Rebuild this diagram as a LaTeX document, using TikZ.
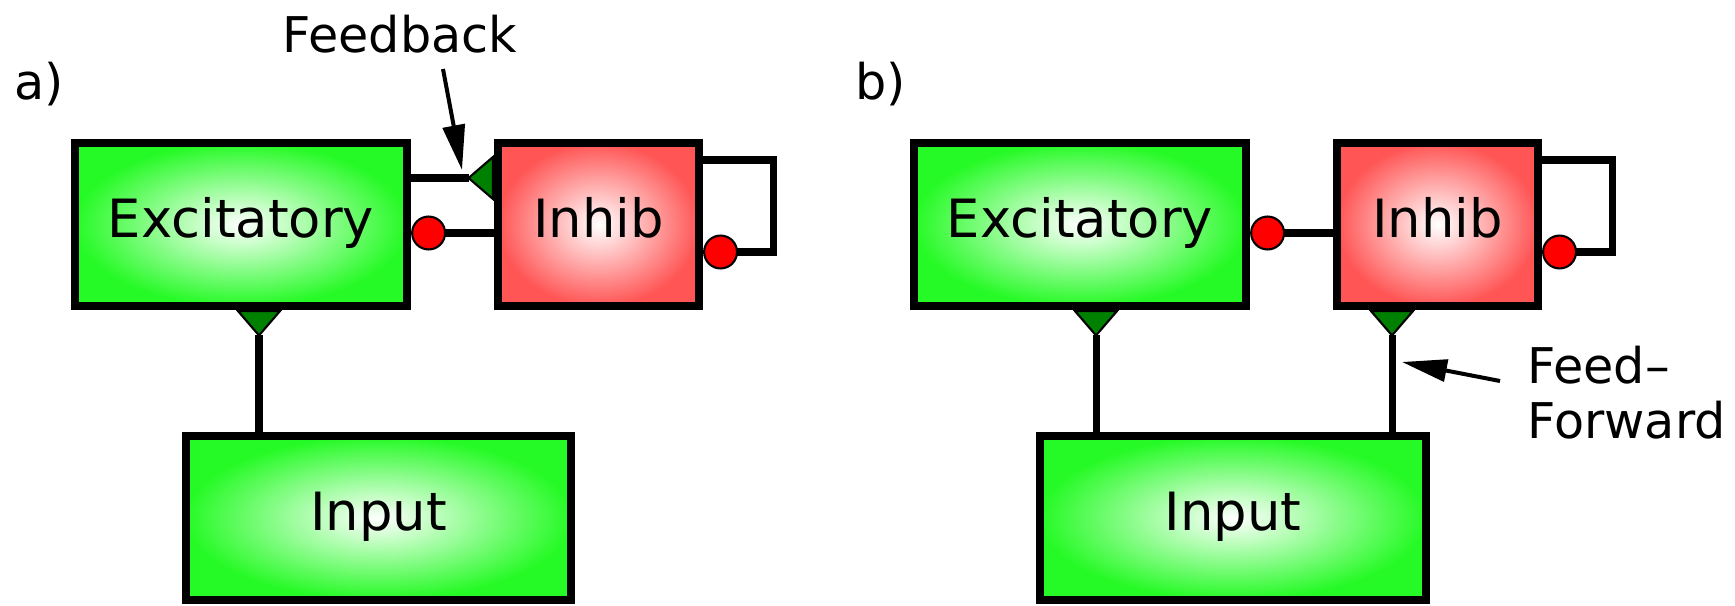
\documentclass[tikz,border=0pt]{standalone}
\usepackage{fontspec}
\setmainfont{DejaVu Sans}
\usepackage{tikz}
\usetikzlibrary{arrows.meta,shapes}
\definecolor{excgreen}{RGB}{38,250,38}
\definecolor{inhred}{RGB}{255,85,85}
\definecolor{synapse}{RGB}{0,128,0}
\definecolor{blocker}{RGB}{255,0,0}
\tikzstyle{lbl}=[font=\fontsize{14}{17}\selectfont,inner sep=0pt]
\tikzstyle{exbox}=[rectangle,draw=black,line width=0.08cm,inner sep=0pt,inner color=white,outer color=excgreen,minimum height=1.63cm,text height=0.73em,text depth=0pt,font=\fontsize{15}{18}\selectfont]
\tikzstyle{inbox}=[rectangle,draw=black,line width=0.08cm,inner sep=0pt,inner color=white,outer color=inhred,minimum width=2.01cm,minimum height=1.63cm,text height=0.73em,text depth=0pt,font=\fontsize{15}{18}\selectfont]
\tikzstyle{excite}=[draw,line width=0.07cm,-{Triangle[reversed,length=0.27cm,width=0.46cm,fill=synapse,line width=0.6pt]}]
\tikzstyle{inhibit}=[draw,line width=0.07cm,-{Circle[length=0.35cm,fill=blocker,line width=0.6pt]}]
\tikzstyle{pointer}=[draw,line width=0.04cm,-{Triangle[length=0.45cm,width=0.22cm]}]

\begin{document}
\begin{tikzpicture}[x=0.01cm,y=-0.01cm]
    \useasboundingbox (0,0) rectangle (1735,606);
    % First we draw the green boxes
    \foreach \pos/\name/\txt/\bw in {{(241,224.5)/ExcA/Excitatory/3.32cm}, {(1080,224.5)/ExcB/Excitatory/3.32cm}, {(378.5,518)/InA/Input/3.85cm}, {(1233,518)/InB/Input/3.85cm}}
        \node[exbox,minimum width=\bw] (\name) at \pos {\txt};
    % then the red ones
    \foreach \pos/\name in {{(598.5,224.5)/InhA}, {(1437.5,224.5)/InhB}}
        \node[inbox] (\name) at \pos {Inhib};

    % Excitatory connections
    \foreach \source/\dest/\xx in {InA/ExcA/259, InB/ExcB/1096, InB/InhB/1392}
        \path[excite] (\source.north -| \xx,0) -- (\dest.south -| \xx,0);
    \path[excite] (ExcA.east |- 0,178) -- (InhA.west |- 0,178);

    % Inhibitory connections and self loops
    \foreach \p in {A,B} {
        \path[inhibit] (Inh\p.west |- 0,233) -- (Exc\p.east |- 0,233);
        \path[inhibit] (Inh\p.east |- 0,160) -- ++(70,0) |- (Inh\p.east |- 0,252);
    }

    \node[lbl,anchor=base west] (labA) at (14,99) {a)};
    \node[lbl,anchor=base west] (labB) at (855,99) {b)};
    \node[lbl,anchor=base west] (fbText) at (282,53) {Feedback};
    \node[lbl,anchor=base west] (ffTop) at (1527,383) {Feed–};
    \node[lbl,anchor=base west] (ffBot) at (1527,438) {Forward};

    % pointers to the connections
    \coordinate (fbTail) at (443,69);
    \coordinate (fbTip) at (462,170);
    \coordinate (ffTail) at (1500,381);
    \coordinate (ffTip) at (1402,362);
    \path[pointer] (fbTail) -- (fbTip);
    \path[pointer] (ffTail) -- (ffTip);
\end{tikzpicture}
\end{document}
